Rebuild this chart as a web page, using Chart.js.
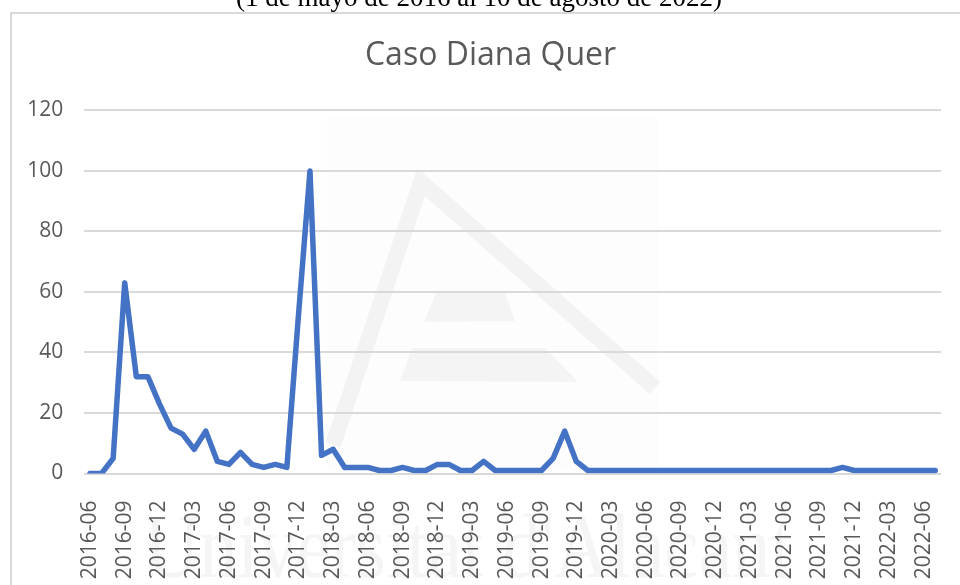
<!DOCTYPE html>
<html lang="es">
<head>
<meta charset="utf-8">
<title>Caso Diana Quer</title>
<script src="https://cdn.jsdelivr.net/npm/chart.js@4.4.1/dist/chart.umd.min.js"></script>
<style>
  html, body { margin: 0; padding: 0; background: #fff; }
  body { width: 960px; height: 585px; overflow: hidden; position: relative; }
  .caption {
    position: absolute; left: 0; width: 958px; top: -16px;
    text-align: center; font-family: "Liberation Serif", "Times New Roman", serif;
    font-size: 27px; line-height: 27px; color: #000; z-index: 3;
  }
  .frame {
    position: absolute; left: 10px; top: 12px; width: 1000px; height: 1000px;
    border: 2px solid #d9d9d9; box-sizing: border-box; z-index: 0;
  }
  .stamp {
    position: absolute; left: 144px; top: 500px; white-space: nowrap;
    font-family: "Liberation Serif", serif; font-size: 92px; line-height: 92px;
    color: #f5f5f5; transform: scaleX(0.83); transform-origin: left top; z-index: 1;
  }
  #wrap { position: absolute; left: 0; top: 0; width: 960px; height: 585px; z-index: 2; }
</style>
</head>
<body>
<div class="caption">(1 de mayo de 2016 al 10 de agosto de 2022)</div>
<div class="frame"></div>
<div class="stamp">Universitat d'Alacant</div>
<div id="wrap"><canvas id="chart"></canvas></div>

<script>
// ===== DATA =====

// Monthly search interest, 2016-06 to 2022-07
const MONTHS = [
  '2016-06','2016-07','2016-08','2016-09','2016-10','2016-11','2016-12',
  '2017-01','2017-02','2017-03','2017-04','2017-05','2017-06','2017-07','2017-08','2017-09','2017-10','2017-11','2017-12',
  '2018-01','2018-02','2018-03','2018-04','2018-05','2018-06','2018-07','2018-08','2018-09','2018-10','2018-11','2018-12',
  '2019-01','2019-02','2019-03','2019-04','2019-05','2019-06','2019-07','2019-08','2019-09','2019-10','2019-11','2019-12',
  '2020-01','2020-02','2020-03','2020-04','2020-05','2020-06','2020-07','2020-08','2020-09','2020-10','2020-11','2020-12',
  '2021-01','2021-02','2021-03','2021-04','2021-05','2021-06','2021-07','2021-08','2021-09','2021-10','2021-11','2021-12',
  '2022-01','2022-02','2022-03','2022-04','2022-05','2022-06','2022-07'
];

const INTEREST = [
  0, 0, 5, 63, 32, 32, 23,
  15, 13, 8, 14, 4, 3, 7, 3, 2, 3, 2, 52,
  100, 6, 8, 2, 2, 2, 1, 1, 2, 1, 1, 3,
  3, 1, 1, 4, 1, 1, 1, 1, 1, 5, 14, 4,
  1, 1, 1, 1, 1, 1, 1, 1, 1, 1, 1, 1,
  1, 1, 1, 1, 1, 1, 1, 1, 1, 1, 2, 1,
  1, 1, 1, 1, 1, 1, 1
];

const Y_TICKS = [0, 20, 40, 60, 80, 100, 120];

const LINE_COLOR = '#4472c4';
const TEXT_COLOR = '#595959';
const GRID_COLOR = '#d9d9d9';

// Faint logo behind the plot
const logoPlugin = {
  id: 'logo',
  beforeDraw(chart) {
    const c = chart.ctx;
    c.save();
    c.fillStyle = 'rgba(0,0,0,0.008)';
    c.fillRect(327, 118, 331, 352);
    c.strokeStyle = 'rgba(0,0,0,0.042)';
    c.lineWidth = 16;
    c.lineJoin = 'miter';
    c.beginPath();
    c.moveTo(333, 445);
    c.lineTo(421, 182);
    c.lineTo(655, 388);
    c.stroke();
    c.fillStyle = 'rgba(0,0,0,0.038)';
    c.beginPath();
    c.moveTo(436, 293); c.lineTo(505, 293); c.lineTo(515, 321); c.lineTo(424, 322);
    c.closePath(); c.fill();
    c.beginPath();
    c.moveTo(412, 348); c.lineTo(545, 348); c.lineTo(578, 382); c.lineTo(400, 381);
    c.closePath(); c.fill();
    c.restore();
  }
};

// Title is centred on the whole frame, not on the padded layout box
const titleShift = {
  id: 'titleShift',
  afterLayout(chart) {
    if (chart.titleBlock) {
      chart.titleBlock.left += 10;
      chart.titleBlock.right += 10;
    }
  }
};

new Chart(document.getElementById('chart'), {
  type: 'line',
  data: {
    labels: MONTHS,
    datasets: [{
      label: 'Caso Diana Quer',
      data: INTEREST,
      borderColor: LINE_COLOR,
      backgroundColor: LINE_COLOR,
      borderWidth: 5.5,
      borderCapStyle: 'round',
      borderJoinStyle: 'round',
      pointRadius: 0,
      tension: 0
    }]
  },
  options: {
    responsive: true,
    maintainAspectRatio: false,
    animation: false,
    layout: { padding: { left: 20, right: 19, top: 0, bottom: 0 } },
    plugins: {
      legend: { display: false },
      tooltip: { enabled: false },
      title: {
        display: true,
        text: 'Caso Diana Quer',
        color: TEXT_COLOR,
        font: { family: '"Open Sans", sans-serif', size: 32, weight: 'normal' },
        padding: { top: 37, bottom: 35 }
      }
    },
    scales: {
      x: {
        offset: true,
        grid: { display: false },
        border: { display: false },
        ticks: {
          autoSkip: false,
          maxRotation: 90,
          minRotation: 90,
          padding: 19,
          color: TEXT_COLOR,
          font: { family: '"Open Sans", sans-serif', size: 21 },
          callback: (v, i) => (i % 3 === 0 ? MONTHS[i] : '')
        },
        afterFit(scale) {
          scale.height = 111.5;
          // rotated labels would otherwise push the plot edges inward
          scale.paddingLeft = 0;
          scale.paddingRight = 0;
        }
      },
      y: {
        min: 0,
        max: 120,
        afterBuildTicks(scale) { scale.ticks = Y_TICKS.map(v => ({ value: v })); },
        grid: { color: GRID_COLOR, lineWidth: 2, drawTicks: false },
        border: { display: false },
        ticks: {
          padding: 21,
          color: TEXT_COLOR,
          font: { family: '"Open Sans", sans-serif', size: 21 }
        },
        afterFit(scale) { scale.width = 64.2; }
      }
    }
  },
  plugins: [logoPlugin, titleShift]
});
</script>
</body>
</html>
